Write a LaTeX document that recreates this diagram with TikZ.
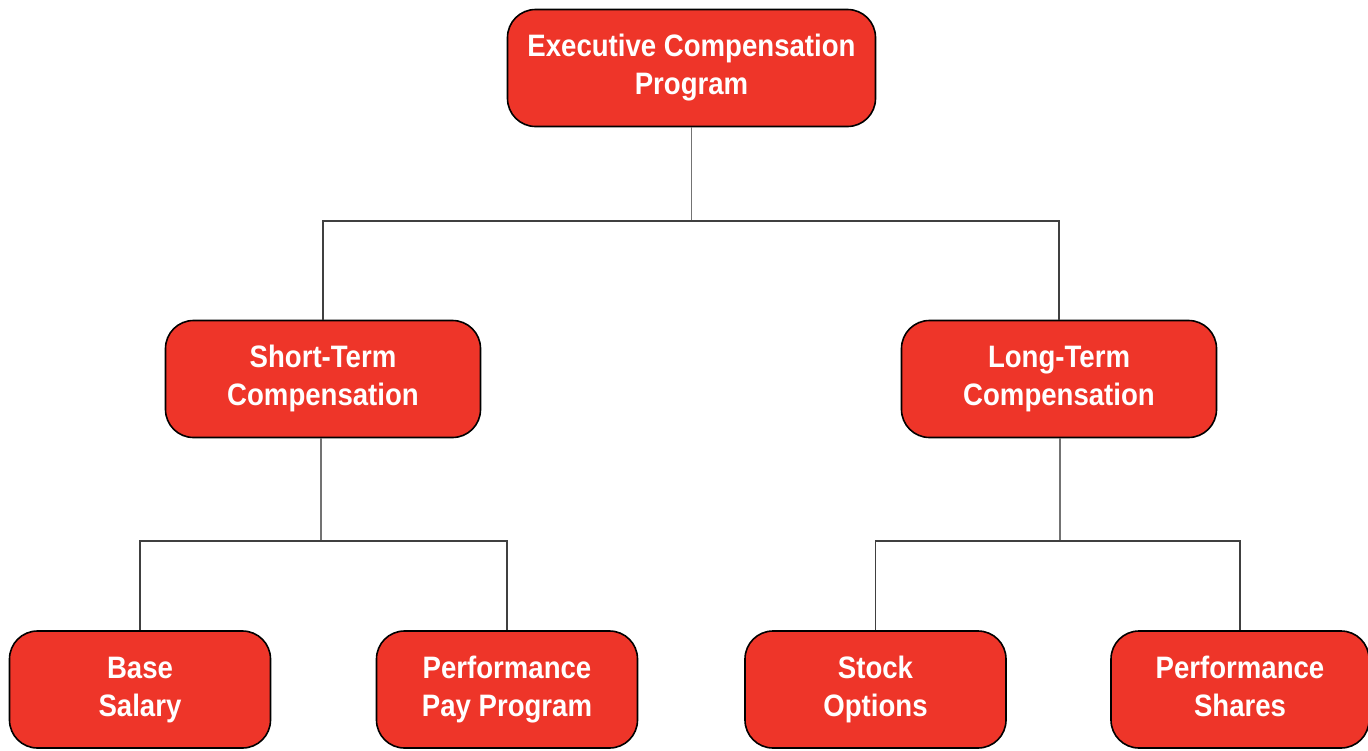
\documentclass[tikz,border=0pt]{standalone}
\usepackage{fontspec}
\setmainfont{Liberation Sans}[FakeStretch=0.89]
\definecolor{boxred}{HTML}{EE3529}

\tikzset{
  box/.style={draw=black, line width=1.6pt, fill=boxred, rounded corners=28pt,
    text=white, font=\fontsize{31}{38}\selectfont\bfseries, align=center,
    inner sep=0pt, minimum height=117pt},
  link/.style={draw=black!75, line width=1.5pt}
}

\begin{document}
\begin{tikzpicture}[x=1pt,y=-1pt]
\useasboundingbox (0,0) rectangle (1368,750);
% boxes
\node[box, minimum width=368pt] (exec) at (691.5,68) {Executive Compensation\strut\\Program\strut};
\node[box, minimum width=315pt] (short) at (323,379) {Short-Term\strut\\Compensation\strut};
\node[box, minimum width=315pt] (long) at (1059,379) {Long-Term\strut\\Compensation\strut};
\node[box, minimum width=261pt] (base) at (140,689.5) {Base\strut\\Salary\strut};
\node[box, minimum width=261pt] (perfpay) at (507,689.5) {Performance\strut\\Pay Program\strut};
\node[box, minimum width=261pt] (stock) at (875.5,689.5) {Stock\strut\\Options\strut};
\node[box, minimum width=258pt] (perfshares) at (1240,689.5) {Performance\strut\\Shares\strut};
% joints
\coordinate (jtop) at (691.5,221);
\coordinate (jshort) at (321,541);
\coordinate (jlong) at (1060,541);
% connectors
\draw[link, draw=black!55] (exec.south) -- (jtop);
\draw[link] (short.north) |- (jtop) -| (long.north);
\draw[link, draw=black!55] (short.south -| jshort) -- (jshort);
\draw[link] (base.north) |- (jshort) -| (perfpay.north);
\draw[link, draw=black!55] (long.south -| jlong) -- (jlong);
\draw[link] (stock.north) |- (jlong) -| (perfshares.north);
\end{tikzpicture}
\end{document}
